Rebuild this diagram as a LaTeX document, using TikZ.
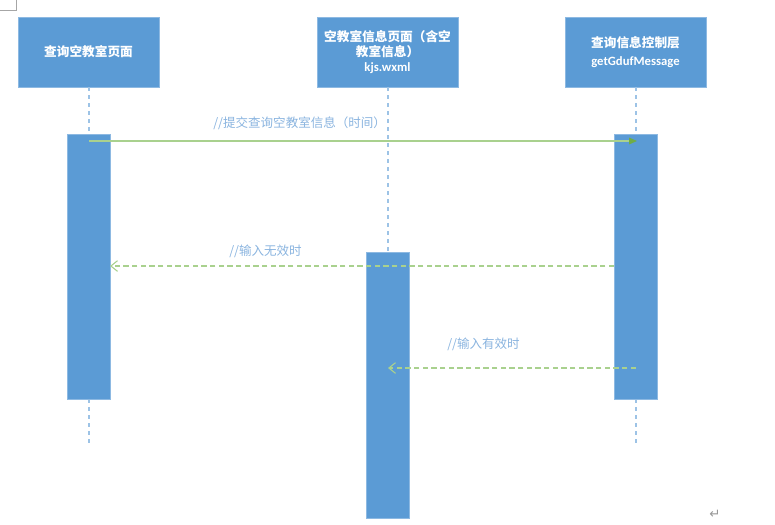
\documentclass[tikz,border=0pt]{standalone}
\usepackage{fontspec}
\setmainfont{Liberation Serif}
\newfontfamily\cjk{Noto Sans CJK SC}
\newfontfamily\latn{Carlito}
\newfontfamily\sym{DejaVu Sans}
\usetikzlibrary{arrows.meta}
\definecolor{boxfill}{HTML}{5B9BD5}
\definecolor{boxedge}{HTML}{8DB9E2}
\definecolor{lifeln}{HTML}{9DC3E6}
\definecolor{msgline}{HTML}{A9D18E}
\definecolor{msgtip}{HTML}{70AD47}
\definecolor{lbl}{HTML}{8AB4DF}
\tikzset{
  objbox/.style={draw=boxedge, fill=boxfill, line width=0.6pt, minimum width=141*0.75pt,
    minimum height=70*0.75pt, inner sep=0pt, text=white, align=center, font=\cjk\bfseries\fontsize{9.5}{12}\selectfont},
  actbar/.style={draw=boxedge, fill=boxfill, line width=0.6pt, minimum width=43*0.75pt, inner sep=0pt},
  lifeline/.style={draw=lifeln, dashed, dash pattern=on 3pt off 3pt, line width=0.8pt},
  callmsg/.style={draw=msgline, line width=0.8pt, -{Triangle[length=6pt,width=5pt,fill=msgtip,color=msgtip]}},
  retmsg/.style={draw=msgline, line width=0.8pt, dash pattern=on 4pt off 2.5pt, -{Straight Barb[length=5pt,width=8pt]}},
  msglabel/.style={text=lbl, font=\cjk\fontsize{9.4}{11}\selectfont, inner sep=0pt, anchor=west}
}
\begin{document}
\begin{tikzpicture}[x=0.75pt,y=-0.75pt]
\useasboundingbox (0,0) rectangle (775,525);
% page corner mark
\draw[gray!70, line width=0.6pt] (0,10) -- (16,10) -- (16,0);
% objects
\node[objbox] (b1) at (88.5,52) {查询空教室页面};
\node[objbox] (b2) at (387.5,52) {空教室信息页面（含空\\[-1pt]教室信息）\\[-0.5pt]{\latn\bfseries kjs.wxml}};
\node[objbox] (b3) at (635.5,52) {查询信息控制层\\[1.5pt]{\latn\bfseries getGdufMessage}};
% lifeline ends
\coordinate (e1) at (89,443);
\coordinate (e2) at (388,252);
\coordinate (e3) at (636,443);
\draw[lifeline] (b1.south -| e1) -- (e1);
\draw[lifeline] (b2.south -| e2) -- (e2);
\draw[lifeline] (b3.south -| e3) -- (e3);
% activation bars
\node[actbar, minimum height=265*0.75pt, anchor=north] (a1) at (88.5,134) {};
\node[actbar, minimum height=266*0.75pt, anchor=north] (a2) at (387.5,252) {};
\node[actbar, minimum height=265*0.75pt, anchor=north] (a3) at (635.5,134) {};
% messages
\coordinate (m1s) at (89,141);
\coordinate (m1e) at (637,141);
\draw[callmsg] (m1s) -- (m1e);
\node[msglabel] (l1) at (213,123) {//提交查询空教室信息（时间）};
\coordinate (m2s) at (614,266);
\coordinate (m2e) at (110,266);
\draw[retmsg] (m2s) -- (m2e);
\node[msglabel] (l2) at (229,251) {//输入无效时};
\coordinate (m3s) at (636,368);
\coordinate (m3e) at (388,368);
\draw[retmsg] (m3s) -- (m3e);
\node[msglabel] (l3) at (447,344) {//输入有效时};
% paragraph mark
\node[text=gray!80, font=\sym\fontsize{10}{11}\selectfont, inner sep=0pt] (pm) at (715,514) {↵};
\end{tikzpicture}
\end{document}
